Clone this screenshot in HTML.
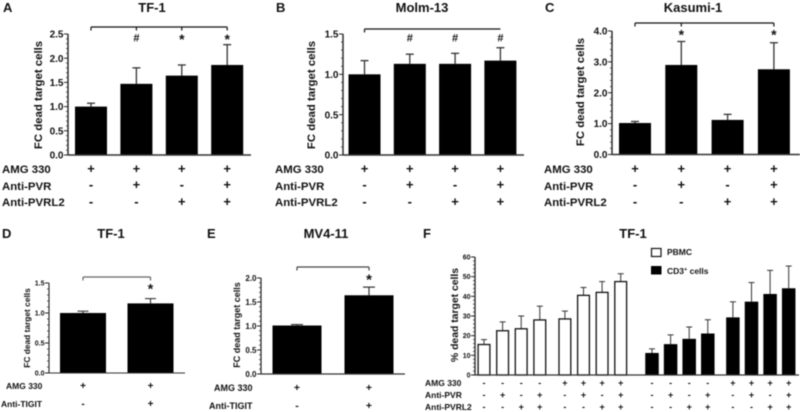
<!DOCTYPE html>
<html lang="en">
<head>
<meta charset="utf-8">
<title>Dead target cell panels</title>
<style>
html,body{margin:0;padding:0;background:#fff;}
#fig{display:block;width:800px;height:412px;filter:blur(0.4px);}
text{font-family:"Liberation Sans",sans-serif;font-weight:bold;fill:#111;}
</style>
</head>
<body>
<svg id="fig" xmlns="http://www.w3.org/2000/svg" width="800" height="412" viewBox="0 0 800 412">
  <rect x="0" y="0" width="800" height="412" fill="#fff"/>
  <g font-size="13">
    <text x="3" y="12">A</text>
    <text x="276" y="12">B</text>
    <text x="545" y="12">C</text>
    <text x="2" y="238">D</text>
    <text x="207" y="238">E</text>
    <text x="423" y="238">F</text>
  </g>
  <g font-size="13" text-anchor="middle">
    <text x="152" y="12">TF-1</text>
    <text x="422" y="12">Molm-13</text>
    <text x="693" y="12">Kasumi-1</text>
    <text x="111" y="238">TF-1</text>
    <text x="326" y="238">MV4-11</text>
    <text x="633" y="238">TF-1</text>
  </g>
  <g text-anchor="middle">
    <text font-size="11.4" transform="translate(42 95) rotate(-90)">FC dead target cells</text>
    <text font-size="11.4" transform="translate(315 95) rotate(-90)">FC dead target cells</text>
    <text font-size="11.4" transform="translate(584 92) rotate(-90)">FC dead target cells</text>
    <text font-size="8.4" transform="translate(30 328) rotate(-90)">FC dead target cells</text>
    <text font-size="9" transform="translate(240 325) rotate(-90)">FC dead target cells</text>
    <text font-size="10.4" transform="translate(458 315) rotate(-90)">% dead target cells</text>
  </g>
  <g>
    <g font-size="11.4">
      <text x="2" y="173">AMG 330</text>
      <text x="2" y="190">Anti-PVR</text>
      <text x="2" y="206">Anti-PVRL2</text>
      <text x="275" y="173">AMG 330</text>
      <text x="275" y="190">Anti-PVR</text>
      <text x="275" y="206">Anti-PVRL2</text>
      <text x="544" y="173">AMG 330</text>
      <text x="544" y="190">Anti-PVR</text>
      <text x="544" y="206">Anti-PVRL2</text>
    </g>
    <g font-size="8.5">
      <text x="6" y="389">AMG 330</text>
      <text x="1" y="407">Anti-TIGIT</text>
      <text x="425" y="386">AMG 330</text>
      <text x="425" y="398">Anti-PVR</text>
      <text x="425" y="410">Anti-PVRL2</text>
    </g>
    <g font-size="9">
      <text x="214" y="391">AMG 330</text>
      <text x="209" y="409">Anti-TIGIT</text>
    </g>
  </g>
  <g>
    <rect x="651.5" y="248.5" width="9.5" height="8" fill="#fff" stroke="#111" stroke-width="1.2"/>
    <text x="667" y="255" font-size="8.5">PBMC</text>
    <rect x="651" y="266" width="10.5" height="8.5" fill="#000"/>
    <text x="667" y="274" font-size="8.5">CD3<tspan font-size="5.5" dy="-3">+</tspan><tspan dy="3"> cells</tspan></text>
  </g>
  <g id="marks"></g>
</svg>
<script>
// Tick labels
const ticksA = ['0.0','0.5','1.0','1.5','2.0','2.5'];
const ticksB = ['0.0','0.5','1.0','1.5'];
const ticksC = ['0.0','1.0','2.0','3.0','4.0'];
const ticksD = ['0.0','0.5','1.0','1.5'];
const ticksE = ['0.0','0.5','1.0','1.5','2.0'];
const ticksF = ['0','10','20','30','40','50','60'];

// Series values and upper error limits
const valuesA = [1.0, 1.47, 1.64, 1.86];
const errorsA = [1.07, 1.8, 1.86, 2.28];
const valuesB = [1.0, 1.13, 1.13, 1.17];
const errorsB = [1.17, 1.25, 1.26, 1.33];
const valuesC = [1.02, 2.9, 1.12, 2.76];
const errorsC = [1.07, 3.66, 1.3, 3.62];
const valuesD = [1.0, 1.16];
const errorsD = [1.03, 1.24];
const valuesE = [1.01, 1.64];
const errorsE = [1.03, 1.81];
const valuesPbmc = [15.5, 22.5, 23.5, 28, 28.5, 40.5, 42, 47.5];
const errorsPbmc = [18, 27, 30, 35, 32.5, 44.5, 47.5, 51.5];
const valuesCd3 = [11.2, 15.7, 18.4, 21.1, 29.3, 37.3, 41.2, 44.1];
const errorsCd3 = [13.3, 20.4, 24.4, 28.1, 37.2, 47, 53.2, 55.4];

// Significance marks
const sigA = ['', '#', '*', '*'];
const sigB = ['', '#', '#', '#'];
const sigC = ['', '*', '', '*'];
const sigD = ['', '*'];
const sigE = ['', '*'];

// Treatment rows
const amg4 = ['+','+','+','+'];
const pvr4 = ['-','+','-','+'];
const pvrl4 = ['-','-','+','+'];
const amg2 = ['+','+'];
const tigit2 = ['-','+'];
const amg8 = ['-','-','-','-','+','+','+','+'];
const pvr8 = ['-','+','-','+','-','+','-','+'];
const pvrl8 = ['-','-','+','+','-','-','+','+'];

const root = document.getElementById('marks');
const NS = 'http://www.w3.org/2000/svg';

function mk(tag, attrs, parent) {
  const el = document.createElementNS(NS, tag);
  for (const k in attrs) el.setAttribute(k, attrs[k]);
  parent.appendChild(el);
  return el;
}

function yScale(f, ticks) {
  const max = parseFloat(ticks[ticks.length - 1]);
  return v => f.y0 - (v / max) * (f.y0 - f.yTop);
}

function xScale(s) {
  return i => s.start + i * s.step + (i >= s.groupSize ? s.gap : 0);
}

function drawAxes(id, f, ticks) {
  const g = mk('g', {}, root);
  
  
  const y = yScale(f, ticks);
  const max = parseFloat(ticks[ticks.length - 1]);
  const yAxis = mk('line', {x1: f.x, x2: f.x, y1: f.yTop, y2: f.y0, stroke: '#222', 'stroke-width': f.lw}, g);
  
  
  const xAxis = mk('line', {x1: f.x, x2: f.xEnd, y1: f.y0, y2: f.y0, stroke: '#333', 'stroke-width': f.lw}, g);
  
  
  const majorStep = max / (ticks.length - 1);
  for (let i = 0; i < ticks.length - 1; i++) {
    for (let m = 1; m < f.minor; m++) {
      const yy = y(i * majorStep + m * majorStep / f.minor);
      const mt = mk('line', {x1: f.x - 2, x2: f.x, y1: yy, y2: yy, stroke: '#333', 'stroke-width': 0.8}, g);
      
      
    }
  }
  ticks.forEach(t => {
    const yy = y(parseFloat(t));
    const tk = mk('line', {x1: f.x - 4, x2: f.x, y1: yy, y2: yy, stroke: '#222', 'stroke-width': 1}, g);
    
    
    const lb = mk('text', {x: f.x - 4.5, y: yy + f.tickFont * 0.36, 'font-size': f.tickFont, 'text-anchor': 'end'}, g);
    lb.textContent = t;
    
    
  });
}

function drawSeries(id, f, s, ticks, values, errors) {
  const y = yScale(f, ticks);
  const x = xScale(s);
  const g = mk('g', {}, root);
  
  
  values.forEach((v, i) => {
    const cx = x(i);
    const stem = mk('line', {x1: cx, x2: cx, y1: y(errors[i]), y2: y(v), stroke: '#333', 'stroke-width': s.errW}, g);
    
    
    const cap = mk('line', {x1: cx - s.cap, x2: cx + s.cap, y1: y(errors[i]), y2: y(errors[i]), stroke: '#333', 'stroke-width': s.errW}, g);
    
    
    const inset = s.hollow ? 0.6 : 0;
    const bar = mk('rect', {
      x: cx - s.width / 2 + inset, width: s.width - inset * 2,
      y: y(v), height: f.y0 - y(v),
      fill: s.hollow ? '#fff' : '#000',
      stroke: s.hollow ? '#111' : 'none',
      'stroke-width': s.hollow ? 1.3 : 0
    }, g);
    
    
  });
}

function drawSigns(id, s, rows, rowY, font) {
  const x = xScale(s);
  const g = mk('g', {}, root);
  
  
  rows.forEach((row, r) => {
    row.forEach((sign, i) => {
      const t = mk('text', {x: x(i), y: rowY[r], 'font-size': font, 'text-anchor': 'middle'}, g);
      t.textContent = sign;
      
      
    });
  });
}

function drawBracket(id, s, b, sig) {
  const x = xScale(s);
  const g = mk('g', {}, root);
  
  
  const x0 = x(0), x1 = x(sig.length - 1);
  const top = mk('line', {x1: x0, x2: x1, y1: b.y, y2: b.y, stroke: b.color, 'stroke-width': 1.2}, g);
  
  
  b.drops.forEach(i => {
    const d = mk('line', {x1: x(i), x2: x(i), y1: b.y, y2: b.y + 3.5, stroke: b.color, 'stroke-width': 1.2}, g);
    
    
  });
  sig.forEach((m, i) => {
    if (!m) return;
    const t = mk('text', {x: x(i), y: m === '#' ? b.hashY : b.starY, 'font-size': m === '#' ? b.hashFont : b.starFont, 'text-anchor': 'middle'}, g);
    t.textContent = m;
    
    
  });
}

// Panel A
const fA = {x: 68, xEnd: 251, y0: 155, yTop: 34, lw: 1.4, minor: 5, tickFont: 10};
const sA = {start: 91, step: 45.4, groupSize: 99, gap: 0, width: 32, cap: 4, errW: 1.3};
drawSeries('a', fA, sA, ticksA, valuesA, errorsA);
drawAxes('a', fA, ticksA);
drawSigns('a', sA, [amg4, pvr4, pvrl4], [173, 189, 206], 13);
drawBracket('a', sA, {y: 27, drops: [0, 1, 2, 3], color: '#111', hashY: 41.5, starY: 44, hashFont: 11, starFont: 14}, sigA);

// Panel B
const fB = {x: 343, xEnd: 524, y0: 155, yTop: 34, lw: 1.4, minor: 5, tickFont: 10};
const sB = {start: 364.5, step: 45.3, groupSize: 99, gap: 0, width: 32, cap: 4, errW: 1.3};
drawSeries('b', fB, sB, ticksB, valuesB, errorsB);
drawAxes('b', fB, ticksB);
drawSigns('b', sB, [amg4, pvr4, pvrl4], [173, 189, 206], 13);
drawBracket('b', sB, {y: 29, drops: [0], color: '#111', hashY: 41.5, starY: 44, hashFont: 11, starFont: 14}, sigB);

// Panel C
const fC = {x: 612, xEnd: 800, y0: 154.5, yTop: 31, lw: 1.4, minor: 5, tickFont: 10};
const sC = {start: 635, step: 46.3, groupSize: 99, gap: 0, width: 32, cap: 4, errW: 1.3};
drawSeries('c', fC, sC, ticksC, valuesC, errorsC);
drawAxes('c', fC, ticksC);
drawSigns('c', sC, [amg4, pvr4, pvrl4], [173, 189, 206], 13);
drawBracket('c', sC, {y: 23, drops: [0, 1, 3], color: '#111', hashY: 40, starY: 39.5, hashFont: 11, starFont: 14}, sigC);

// Panel D
const fD = {x: 49, xEnd: 185, y0: 373, yTop: 283, lw: 1.1, minor: 5, tickFont: 7};
const sD = {start: 83, step: 67.5, groupSize: 99, gap: 0, width: 46, cap: 5.5, errW: 1.1};
drawSeries('d', fD, sD, ticksD, valuesD, errorsD);
drawAxes('d', fD, ticksD);
drawSigns('d', sD, [amg2, tigit2], [389, 407], 10);
drawBracket('d', sD, {y: 277, drops: [0, 1], color: '#666', hashY: 300, starY: 293.5, hashFont: 9, starFont: 14}, sigD);

// Panel E
const fE = {x: 261, xEnd: 405, y0: 374, yTop: 278, lw: 1.2, minor: 5, tickFont: 8};
const sE = {start: 297, step: 72, groupSize: 99, gap: 0, width: 49, cap: 6, errW: 1.2};
drawSeries('e', fE, sE, ticksE, valuesE, errorsE);
drawAxes('e', fE, ticksE);
drawSigns('e', sE, [amg2, tigit2], [391, 409], 10.5);
drawBracket('e', sE, {y: 267, drops: [0, 1], color: '#444', hashY: 290, starY: 284.5, hashFont: 9, starFont: 15}, sigE);

// Panel F
const fF = {x: 475, xEnd: 799, y0: 375, yTop: 257, lw: 1.3, minor: 5, tickFont: 7};
const sPbmc = {start: 484, step: 18.6, groupSize: 4, gap: 6.5, width: 13, cap: 3, errW: 1, hollow: true};
const sCd3 = {start: 652, step: 18.6, groupSize: 4, gap: 6.5, width: 13.5, cap: 3, errW: 1};
drawSeries('pbmc', fF, sPbmc, ticksF, valuesPbmc, errorsPbmc);
drawSeries('cd3', fF, sCd3, ticksF, valuesCd3, errorsCd3);
drawAxes('f', fF, ticksF);
drawSigns('pbmc', sPbmc, [amg8, pvr8, pvrl8], [386, 398, 410], 9);
drawSigns('cd3', sCd3, [amg8, pvr8, pvrl8], [386, 398, 410], 9);
</script>
</body>
</html>
